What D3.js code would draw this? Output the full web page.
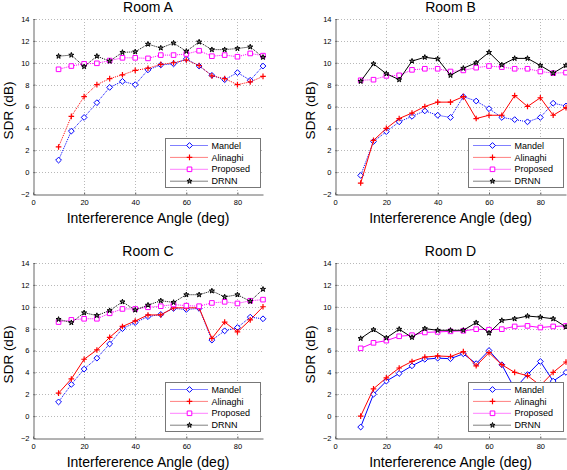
<!DOCTYPE html>
<html>
<head>
<meta charset="utf-8">
<script src="https://cdn.jsdelivr.net/npm/d3@7"></script>
<style>
  html, body { margin: 0; padding: 0; background: #fff; }
  svg { display: block; font-family: Arial, "Liberation Sans", sans-serif; }
</style>
</head>
<body>
<svg id="chart" width="567" height="470"></svg>
<script>
// ---------------- DATA ----------------
const angles = [10, 15, 20, 25, 30, 35, 40, 45, 50, 55, 60, 65, 70, 75, 80, 85, 90];
const seriesNames = ["Mandel", "Alinaghi", "Proposed", "DRNN"];
const roomTitles = ["Room A", "Room B", "Room C", "Room D"];
const xTickValues = [0, 20, 40, 60, 80];
const yTickValues = [-2, 0, 2, 4, 6, 8, 10, 12, 14];

const roomA_mandel   = [1.1, 3.75, 5.0, 6.35, 7.75, 8.3, 8.0, 9.35, 9.8, 9.9, 10.35, 9.7, 8.85, 8.45, 9.1, 8.4, 9.7];
const roomA_alinaghi = [2.3, 5.1, 6.9, 8.0, 8.55, 8.9, 9.3, 9.5, 9.85, 10.0, 10.25, 9.75, 8.8, 8.55, 8.0, 8.25, 8.75];
const roomA_proposed = [9.4, 9.7, 9.9, 9.95, 10.2, 10.45, 10.45, 10.4, 10.7, 10.7, 10.8, 11.1, 10.6, 10.7, 10.55, 10.85, 10.65];
const roomA_drnn     = [10.6, 10.7, 9.65, 10.6, 10.15, 10.95, 11.0, 11.7, 11.35, 11.8, 11.05, 11.9, 11.2, 11.2, 11.3, 11.45, 10.5];

const roomB_mandel   = [-0.3, 2.8, 3.7, 4.6, 5.1, 5.6, 5.2, 5.0, 6.9, 6.5, 5.8, 5.0, 4.8, 4.6, 5.0, 6.3, 6.05];
const roomB_alinaghi = [-1.0, 2.9, 4.0, 4.9, 5.4, 6.0, 6.4, 6.4, 6.9, 4.9, 5.2, 5.2, 7.0, 6.0, 6.8, 5.2, 5.9];
const roomB_proposed = [8.4, 8.45, 8.8, 8.85, 9.35, 9.45, 9.45, 9.2, 9.3, 9.55, 9.7, 9.6, 9.45, 9.45, 9.2, 9.05, 9.1];
const roomB_drnn     = [8.3, 9.9, 9.0, 8.45, 10.15, 10.5, 10.35, 8.85, 9.5, 10.0, 10.95, 9.8, 10.4, 10.4, 9.75, 9.05, 9.75];

const roomC_mandel   = [1.3, 2.9, 4.3, 5.3, 6.6, 8.0, 8.55, 9.1, 9.3, 9.85, 9.75, 9.85, 6.95, 7.8, 8.1, 9.05, 8.9];
const roomC_alinaghi = [2.1, 3.4, 5.2, 6.05, 7.2, 8.2, 8.7, 9.25, 9.25, 9.9, 9.9, 9.9, 7.1, 8.6, 7.7, 8.8, 10.0];
const roomC_proposed = [8.6, 8.8, 8.9, 8.9, 9.4, 9.8, 9.8, 9.95, 10.05, 10.2, 10.1, 10.05, 10.35, 10.45, 10.3, 10.55, 10.65];
const roomC_drnn     = [8.85, 8.55, 9.45, 9.2, 9.65, 10.45, 9.7, 10.15, 10.55, 10.4, 11.1, 11.1, 11.45, 10.9, 11.1, 10.5, 11.6];

const roomD_mandel   = [-1.0, 2.0, 3.2, 3.9, 4.6, 5.2, 5.3, 5.25, 5.7, 4.8, 6.0, 4.7, 2.5, 3.8, 5.0, 3.2, 4.0];
const roomD_alinaghi = [0.0, 2.5, 3.5, 4.4, 5.0, 5.4, 5.5, 5.45, 5.9, 4.6, 5.8, 4.7, 4.0, 3.7, 2.8, 4.0, 4.95];
const roomD_proposed = [6.2, 6.7, 6.9, 7.3, 7.4, 7.65, 7.7, 7.75, 7.8, 7.95, 7.9, 7.95, 8.2, 8.25, 8.1, 8.2, 8.25];
const roomD_drnn     = [7.1, 7.9, 7.15, 7.95, 7.2, 8.0, 7.85, 7.85, 7.85, 8.55, 7.6, 8.75, 8.9, 9.15, 9.05, 8.9, 8.15];

// ---------------- STYLES / LAYOUT ----------------
const colors = ["#0000ff", "#ff0000", "#ff00ff", "#000000"];
const markerKinds = ["diamond", "plus", "square", "star"];
const DOT = "1,1";
const dashes = [
  [DOT, DOT, DOT, DOT],
  [DOT, null, DOT, null],
  [DOT, null, DOT, DOT],
  [null, null, null, null]
];

const panels = [
  { left: 33,  right: 263, top: 19,  bottom: 194, data: [roomA_mandel, roomA_alinaghi, roomA_proposed, roomA_drnn] },
  { left: 335, right: 566, top: 19,  bottom: 194, data: [roomB_mandel, roomB_alinaghi, roomB_proposed, roomB_drnn] },
  { left: 33,  right: 263, top: 263, bottom: 438, data: [roomC_mandel, roomC_alinaghi, roomC_proposed, roomC_drnn] },
  { left: 335, right: 566, top: 263, bottom: 438, data: [roomD_mandel, roomD_alinaghi, roomD_proposed, roomD_drnn] }
];

const svg = d3.select("#chart");

function markerPath(kind) {
  switch (kind) {
    case "diamond": return "M0,-2.9L2.9,0L0,2.9L-2.9,0Z";
    case "plus": return "M-2.8,0H2.8M0,-2.8V2.8";
    case "square": return "M-2.3,-2.3H2.3V2.3H-2.3Z";
    case "star": return d3.symbol().type(d3.symbolStar).size(8)();
  }
}

function drawMarker(g, kind, color, x, y) {
  return g.append("path")
    .attr("d", markerPath(kind))
    .attr("transform", `translate(${x},${y})`)
    .attr("stroke", color)
    .attr("stroke-width", kind === "plus" ? 1.2 : 1)
    .attr("fill", kind === "star" ? "#777" : "#fff");
}

panels.forEach((P, pi) => {
  const x = d3.scaleLinear().domain([0, 90]).range([P.left, P.right]);
  const y = d3.scaleLinear().domain([-2, 14]).range([P.bottom, P.top]);
  const g = svg.append("g");

  // grid
  g.append("g").selectAll("line").data(xTickValues.filter(v => v > 0)).join("line")
    .attr("x1", d => Math.round(x(d)) + 0.5).attr("x2", d => Math.round(x(d)) + 0.5)
    .attr("y1", P.top).attr("y2", P.bottom)
    .attr("stroke", "#b8b8b8").attr("stroke-width", 1).attr("stroke-dasharray", "1,2");
  g.append("g").selectAll("line").data(yTickValues.filter(v => v > -2)).join("line")
    .attr("y1", d => Math.round(y(d)) + 0.5).attr("y2", d => Math.round(y(d)) + 0.5)
    .attr("x1", P.left).attr("x2", P.right)
    .attr("stroke", "#b8b8b8").attr("stroke-width", 1).attr("stroke-dasharray", "1,2");

  // axes
  const xAxis = d3.axisBottom(x).tickValues(xTickValues).tickSizeInner(-2).tickSizeOuter(0).tickPadding(4);
  const yAxis = d3.axisLeft(y).tickValues(yTickValues).tickSizeInner(-2).tickSizeOuter(0).tickPadding(4);
  const gx = g.append("g").attr("transform", `translate(0,${Math.round(P.bottom) + 0.5})`).call(xAxis);
  const gy = g.append("g").attr("transform", `translate(${Math.round(P.left) + 0.5},0)`).call(yAxis);
  [gx, gy].forEach(a => {
    a.select(".domain").attr("stroke", "#666");
    a.selectAll(".tick line").attr("stroke", "#666");
    a.selectAll("text").attr("font-size", "7.5px").attr("fill", "#000")
      .attr("font-family", "Arial, 'Liberation Sans', sans-serif");
  });
  gx.selectAll("text").attr("dy", "0.9em");

  // title
  g.append("text").attr("x", (P.left + P.right) / 2).attr("y", P.top - 7)
    .attr("text-anchor", "middle").attr("font-size", "14px").text(roomTitles[pi]);
  // x label
  g.append("text").attr("x", (P.left + P.right) / 2).attr("y", P.bottom + 29)
    .attr("text-anchor", "middle").attr("font-size", "14px").text("Interfererence Angle (deg)");
  // y label
  g.append("text")
    .attr("transform", `translate(${P.left - 20},${(P.top + P.bottom) / 2 + 4}) rotate(-90)`)
    .attr("text-anchor", "middle").attr("font-size", "13.5px").text("SDR (dB)");

  // series
  P.data.forEach((vals, si) => {
    const pts = angles.map((a, i) => [a, vals[i]]);
    const line = d3.line().x(d => x(d[0])).y(d => y(d[1]));
    g.append("path").datum(pts).attr("d", line)
      .attr("fill", "none").attr("stroke", colors[si]).attr("stroke-width", 1)
      .attr("stroke-dasharray", dashes[pi][si]);
    pts.forEach(d => drawMarker(g, markerKinds[si], colors[si], x(d[0]), y(d[1])));
  });

  // legend
  const lw = 95, lh = 49;
  const lx = Math.round(P.right - 98) + 0.5, ly = Math.round(P.bottom - 56) + 0.5;
  const lg = g.append("g");
  lg.append("rect").attr("x", lx).attr("y", ly).attr("width", lw).attr("height", lh)
    .attr("fill", "#fff").attr("stroke", "#777").attr("stroke-width", 1);
  seriesNames.forEach((name, si) => {
    const ry = ly + 7 + si * 11.9;
    lg.append("line").attr("x1", lx + 5).attr("x2", lx + 43).attr("y1", ry).attr("y2", ry)
      .attr("stroke", colors[si]).attr("stroke-width", 1).attr("stroke-dasharray", DOT);
    drawMarker(lg, markerKinds[si], colors[si], lx + 24, ry);
    lg.append("text").attr("x", lx + 46).attr("y", ry).attr("dy", "0.35em")
      .attr("font-size", "9px").text(name);
  });
});
</script>
</body>
</html>
